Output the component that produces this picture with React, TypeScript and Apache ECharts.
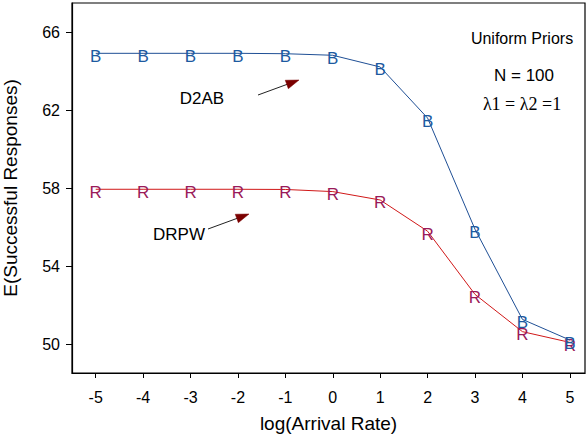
import React, { useEffect, useRef } from "react";
import * as echarts from "echarts";

const logArrivalRate = [-5, -4, -3, -2, -1, 0, 1, 2, 3, 4, 5];
const d2abValues = [64.92, 64.92, 64.92, 64.92, 64.9, 64.82, 64.22, 61.6, 55.9, 51.28, 50.22];
const drpwValues = [57.95, 57.95, 57.95, 57.95, 57.94, 57.83, 57.4, 55.8, 52.56, 50.65, 50.1];
const xTicks = [-5, -4, -3, -2, -1, 0, 1, 2, 3, 4, 5];
const yTicks = [50, 54, 58, 62, 66];

const BLUE_LINE = "#1f4f95";
const BLUE_TEXT = "#1d5aa0";
const RED_LINE = "#d01818";
const RED_TEXT = "#9a1a5a";

function arrow(tail: number[], tip: number[]) {
  const dx = tip[0] - tail[0];
  const dy = tip[1] - tail[1];
  const len = Math.sqrt(dx * dx + dy * dy);
  const ux = dx / len, uy = dy / len;
  const hl = 13, hw = 4.5;
  const bx = tip[0] - ux * hl, by = tip[1] - uy * hl;
  return [
    { type: "line", shape: { x1: tail[0], y1: tail[1], x2: bx + ux * 2, y2: by + uy * 2 }, style: { stroke: "#222", lineWidth: 1 } },
    {
      type: "polygon",
      shape: { points: [[tip[0], tip[1]], [bx - uy * hw, by + ux * hw], [bx + uy * hw, by - ux * hw]] },
      style: { fill: "#7a0000", stroke: "#7a0000", lineWidth: 0.5 },
    },
  ];
}

export default function App() {
  const ref = useRef<HTMLDivElement>(null);
  useEffect(() => {
    const chart = echarts.init(ref.current!, null, { renderer: "svg" });
    const font = "Liberation Sans, Arial, sans-serif";
    const seriesFor = (name: string, vals: number[], lineColor: string, textColor: string, letter: string) => ({
      name,
      type: "line",
      data: logArrivalRate.map((x, i) => [x, vals[i]]),
      lineStyle: { color: lineColor, width: 1 },
      itemStyle: { color: "rgba(0,0,0,0)" },
      symbol: "circle",
      symbolSize: 1,
      showSymbol: true,
      label: {
        show: true,
        position: "inside",
        formatter: letter,
        color: textColor,
        fontSize: 17,
        fontFamily: font,
        offset: [0, 3],
      },
      z: name === "D2AB" ? 3 : 2,
    });
    chart.setOption({
      animation: false,
      grid: { left: 72, right: 2, top: 3, bottom: 66, outerBoundsMode: "none", containLabel: false, show: true, borderColor: "#000", borderWidth: 1.2, backgroundColor: "#fff" },
      xAxis: {
        type: "value",
        min: -5.5,
        max: 5.32,
        name: "log(Arrival Rate)",
        nameLocation: "middle",
        nameGap: 41,
        nameTextStyle: { fontSize: 19, color: "#000", fontFamily: font },
        axisLine: { show: true, onZero: false, lineStyle: { color: "#000", width: 1.2 } },
        axisTick: { show: true, customValues: xTicks, length: 5, lineStyle: { color: "#000" } },
        axisLabel: { customValues: xTicks, fontSize: 16, color: "#000", fontFamily: font, margin: 16 },
        splitLine: { show: false },
      },
      yAxis: {
        type: "value",
        min: 48.53,
        max: 67.5,
        name: "E(Successful Responses)",
        nameLocation: "middle",
        nameGap: 52,
        nameTextStyle: { fontSize: 19, color: "#000", fontFamily: font },
        axisLine: { show: true, onZero: false, lineStyle: { color: "#000", width: 1.2 } },
        axisTick: { show: true, customValues: yTicks, length: 6, lineStyle: { color: "#000" } },
        axisLabel: { customValues: yTicks, fontSize: 16, color: "#000", fontFamily: font, margin: 12 },
        splitLine: { show: false },
      },
      series: [
        seriesFor("DRPW", drpwValues, RED_LINE, RED_TEXT, "R"),
        seriesFor("D2AB", d2abValues, BLUE_LINE, BLUE_TEXT, "B"),
      ],
      graphic: [
        { type: "text", x: 522, y: 38, style: { text: "Uniform Priors", font: "16px Liberation Sans, Arial, sans-serif", fill: "#000", align: "center", verticalAlign: "middle" } },
        { type: "text", x: 524, y: 75, style: { text: "N = 100", font: "17px Liberation Sans, Arial, sans-serif", fill: "#000", align: "center", verticalAlign: "middle" } },
        { type: "text", x: 522, y: 104, style: { text: "\u03bb1 = \u03bb2 =1", font: "18px Liberation Serif, Times New Roman, serif", fill: "#000", align: "center", verticalAlign: "middle" } },
        { type: "text", x: 202, y: 98, style: { text: "D2AB", font: "17px Liberation Sans, Arial, sans-serif", fill: "#000", align: "center", verticalAlign: "middle" } },
        { type: "text", x: 179, y: 234, style: { text: "DRPW", font: "17px Liberation Sans, Arial, sans-serif", fill: "#000", align: "center", verticalAlign: "middle" } },
        ...arrow([258, 95], [299, 80]),
        ...arrow([208, 229], [249, 214]),
      ],
    });
    return () => chart.dispose();
  }, []);
  return <div ref={ref} style={{ position: "fixed", left: 0, top: 0, width: 587, height: 439, background: "#fff" }} />;
}
